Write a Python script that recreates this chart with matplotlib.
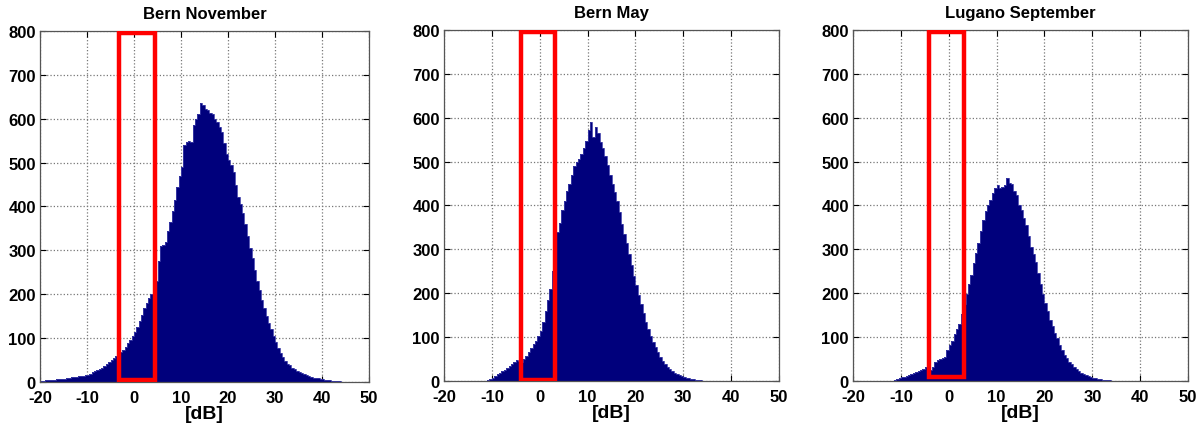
import numpy as np
import matplotlib.pyplot as plt
from matplotlib.patches import Rectangle

plt.rcParams['font.family'] = 'Liberation Sans'
plt.rcParams['font.weight'] = 'bold'
plt.rcParams['axes.unicode_minus'] = False

# histogram counts per 0.5 dB bin
bin_w = 0.5

titles = ['Bern November', 'Bern May', 'Lugano September']

# Bern November, first bin starts at -20 dB
start_nov = -20.0
counts_nov = [3, 3, 4, 4, 5, 5, 5, 6, 6, 7, 7, 8, 9, 12, 11, 12, 13, 13, 14, 15,
              16, 18, 22, 24, 27, 30, 33, 36, 40, 45, 50, 55, 60, 62, 68, 74, 80, 88, 96, 104,
              113, 125, 140, 152, 168, 180, 192, 200, 212, 230, 276, 310, 312, 318, 345, 365, 390, 415, 445, 470,
              490, 540, 548, 550, 546, 585, 600, 610, 635, 632, 622, 620, 612, 610, 600, 592, 582, 570, 545, 520,
              505, 495, 478, 450, 422, 405, 385, 360, 333, 305, 282, 255, 230, 210, 188, 168, 150, 135, 120, 105,
              90, 78, 65, 56, 48, 42, 38, 33, 29, 26, 23, 20, 18, 16, 14, 12, 10, 9, 8, 7,
              6, 5, 4, 4, 3, 3, 2, 2, 1, 1]

# Bern May, first bin starts at -11.5 dB
start_may = -11.5
counts_may = [1, 3, 5, 7, 11, 15, 19, 22, 26, 30, 34, 39, 44, 47, 46, 43, 50, 57, 65, 75,
              84, 92, 103, 115, 135, 160, 185, 210, 250, 270, 340, 360, 390, 410, 432, 448, 470, 490, 500, 505,
              518, 530, 548, 572, 590, 555, 578, 565, 545, 532, 512, 492, 470, 450, 430, 410, 385, 358, 335, 315,
              290, 265, 240, 218, 195, 175, 155, 135, 118, 103, 90, 78, 66, 55, 46, 38, 32, 27, 22, 18,
              15, 13, 11, 9, 7, 6, 5, 4, 3, 3, 2, 1, 1]

# Lugano September, first bin starts at -12 dB
start_sep = -12.0
counts_sep = [1, 3, 5, 6, 8, 10, 12, 14, 16, 18, 20, 22, 25, 28, 32, 30, 25, 33, 43, 48,
              50, 52, 54, 70, 82, 92, 108, 118, 130, 152, 175, 198, 220, 242, 268, 292, 315, 342, 368, 388,
              402, 412, 428, 440, 446, 440, 442, 446, 462, 452, 448, 432, 425, 400, 390, 372, 355, 330, 305, 290,
              272, 245, 222, 198, 178, 160, 140, 125, 110, 98, 82, 70, 60, 52, 44, 38, 32, 27, 22, 18,
              15, 13, 11, 9, 7, 6, 5, 4, 3, 3, 2, 2, 1, 1]

# red boxes: (x_left, x_right, y_bottom, y_top)
boxes = [(-3.2, 4.4, 4, 796), (-3.9, 3.2, 2, 796), (-4.2, 3.1, 10, 796)]

starts = [start_nov, start_may, start_sep]
all_counts = [counts_nov, counts_may, counts_sep]

fig = plt.figure(figsize=(12.02, 4.31), dpi=100)
positions = [[0.0333, 0.1114, 0.2737, 0.8144],
             [0.3694, 0.1137, 0.2787, 0.8144],
             [0.7097, 0.1137, 0.2787, 0.8144]]

for i in range(3):
    ax = fig.add_axes(positions[i])
    counts = np.array(all_counts[i], dtype=float)
    edges = starts[i] + bin_w * np.arange(len(counts) + 1)
    ax.stairs(counts, edges, fill=True, color='#00007c', zorder=2)
    ax.stairs(counts, edges, color='#3d3da8', linewidth=0.6, zorder=2)

    x0, x1, y0, y1 = boxes[i]
    ax.add_patch(Rectangle((x0, y0), x1 - x0, y1 - y0, fill=False,
                           edgecolor='red', linewidth=3.2, zorder=3))

    ax.set_xlim(-20, 50)
    ax.set_ylim(0, 800)
    ax.set_xticks(np.arange(-20, 51, 10))
    ax.set_yticks(np.arange(0, 801, 100))
    ax.grid(True, linestyle=':', color='#777777', linewidth=0.9)
    ax.set_axisbelow(True)
    ax.tick_params(direction='in', top=True, right=True, length=4, labelsize=12)
    ax.tick_params(axis='x', pad=6)
    ax.tick_params(axis='y', pad=3)
    for s in ax.spines.values():
        s.set_color('#555555')
        s.set_linewidth(0.9)
    ax.set_title(titles[i], fontsize=12, fontweight='bold', pad=9)
    ax.set_xlabel('[dB]', fontsize=14, fontweight='bold', labelpad=0)

fig.savefig('out.png', dpi=100)
